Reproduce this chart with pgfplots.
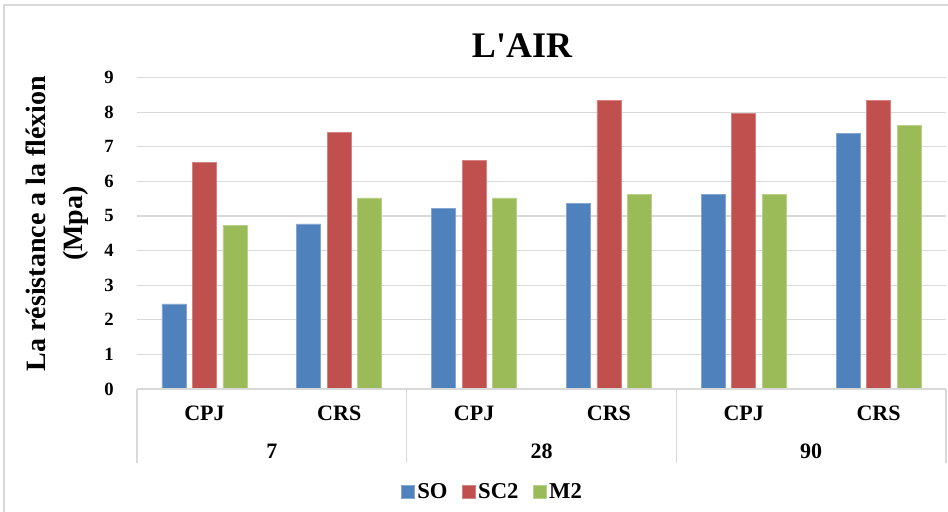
\documentclass[border=0pt]{standalone}
\usepackage{fontspec}
\setmainfont{Liberation Serif}
\usepackage{pgfplots}
\pgfplotsset{compat=1.18}

\definecolor{cSO}{HTML}{4F81BD}
\definecolor{cSC}{HTML}{C0504D}
\definecolor{cM}{HTML}{9BBB59}
\definecolor{gridc}{HTML}{D9D9D9}

\begin{document}
\begin{tikzpicture}
% page frame
\useasboundingbox (-102.75pt,-91.5pt) rectangle (608.25pt,291.75pt);
\draw[gridc, line width=0.8pt] (-99.75pt,-95pt) -- (-99.75pt,288pt) -- (615pt,288pt);

\begin{axis}[
  at={(0pt,0pt)}, anchor=south west,
  scale only axis,
  width=606.75pt, height=233.6pt,
  xmin=-0.5, xmax=5.5,
  ymin=0, ymax=9,
  ytick={0,1,...,9},
  xtick={0,1,2,3,4,5},
  xticklabels={CPJ,CRS,CPJ,CRS,CPJ,CRS},
  major tick length=0pt,
  axis line style={draw=none},
  ymajorgrids,
  grid style={gridc, line width=0.8pt},
  /pgf/number format/assume math mode=true,
  yticklabel style={font=\bfseries\fontsize{14}{14}\selectfont, anchor=east, xshift=-14pt},
  xticklabel style={font=\bfseries\fontsize{16.5}{17}\selectfont, anchor=center, yshift=-18pt},
  ybar, bar width=0.178,
  clip=false,
  legend columns=3,
  legend style={at={(0.44,-0.331)}, anchor=center, draw=none,
    font=\bfseries\fontsize{17}{18}\selectfont,
    /tikz/every even column/.append style={column sep=9pt}},
  legend image code/.code={\fill[#1] (0pt,-4.8pt) rectangle (9.5pt,4.8pt);},
]
\addplot[fill=cSO, draw=cSO!70!white, line width=0.5pt, bar shift=-0.226]
  coordinates {(0,2.46) (1,4.77) (2,5.22) (3,5.37) (4,5.63) (5,7.38)};
\addplot[fill=cSC, draw=cSC!70!white, line width=0.5pt, bar shift=0]
  coordinates {(0,6.55) (1,7.42) (2,6.60) (3,8.34) (4,7.97) (5,8.33)};
\addplot[fill=cM, draw=cM!70!white, line width=0.5pt, bar shift=0.226]
  coordinates {(0,4.73) (1,5.52) (2,5.52) (3,5.63) (4,5.63) (5,7.61)};
\legend{SO,SC2,M2}

% category table below the axis
\draw[gridc, line width=0.8pt] (axis cs:-0.5,0) -- (axis cs:5.5,0);
\draw[gridc, line width=0.8pt] (axis cs:-0.5,0) -- ([yshift=-55.5pt]axis cs:-0.5,0);
\draw[gridc, line width=0.8pt] (axis cs:1.5,0) -- ([yshift=-55.5pt]axis cs:1.5,0);
\draw[gridc, line width=0.8pt] (axis cs:3.5,0) -- ([yshift=-55.5pt]axis cs:3.5,0);
\draw[gridc, line width=0.8pt] (axis cs:5.5,0) -- ([yshift=-55.5pt]axis cs:5.5,0);
\node[font=\bfseries\fontsize{16.5}{17}\selectfont, yshift=-46.5pt] at (axis cs:0.5,0) {7};
\node[font=\bfseries\fontsize{16.5}{17}\selectfont, yshift=-46.5pt] at (axis cs:2.5,0) {28};
\node[font=\bfseries\fontsize{16.5}{17}\selectfont, yshift=-46.5pt] at (axis cs:4.5,0) {90};
\end{axis}

% title and y label
\node[font=\bfseries\fontsize{27}{30}\selectfont] at (288.75pt,257.25pt) {L\textquotesingle AIR};
\node[font=\bfseries\fontsize{21}{27.75}\selectfont, rotate=90, align=center]
  at (-59.6pt,124pt) {La résistance a la fléxion\\(Mpa)};
\end{tikzpicture}
\end{document}
